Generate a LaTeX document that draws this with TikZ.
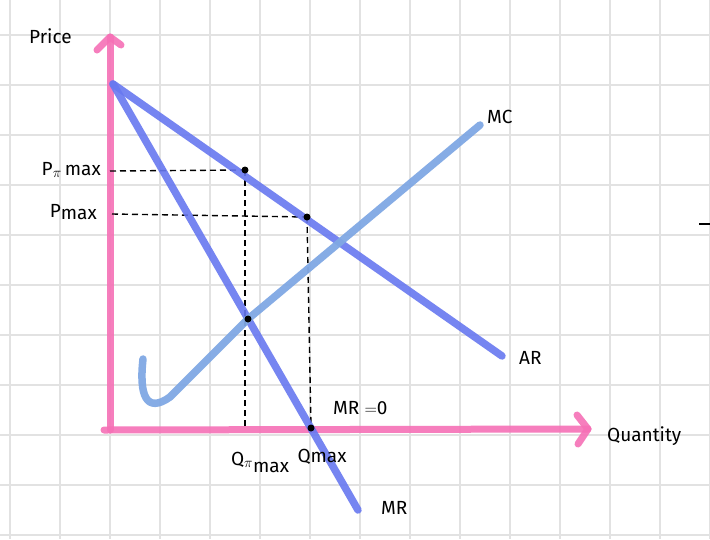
\documentclass[tikz,border=0pt]{standalone}
\usepackage{fontspec}
\setmainfont{Fira Sans}
\definecolor{axpink}{RGB}{246,112,182}
\definecolor{curveblue}{RGB}{104,120,240}
\definecolor{mcblue}{RGB}{128,168,228}
\definecolor{gridgray}{RGB}{226,226,226}
\begin{document}
\begin{tikzpicture}[x=1pt,y=-1pt,
  gridline/.style={draw=gridgray,line width=2pt},
  axisline/.style={draw=axpink,line width=7pt,line cap=round,line join=round,opacity=0.9},
  curveline/.style={draw=curveblue,line width=7.5pt,line cap=round,opacity=0.9},
  mcline/.style={draw=mcblue,line width=7.5pt,line cap=round,line join=round,opacity=0.95},
  guide/.style={draw=black,line width=1.4pt,dash pattern=on 6pt off 4pt},
  pt/.style={circle,fill=black,inner sep=0pt,minimum size=7pt},
  lbl/.style={font=\fontsize{19}{22}\selectfont,inner sep=1pt},
]
\useasboundingbox (0,0) rectangle (710,539);
\fill[white] (0,0) rectangle (710,539);
% grid
\foreach \x in {10,60,...,710} \draw[gridline] (\x,0) -- (\x,539);
\foreach \y in {35,85,...,535} \draw[gridline] (0,\y) -- (710,\y);

% coordinates
\coordinate (O) at (110,430);
\coordinate (Ytop) at (110,37);
\coordinate (Xend) at (588,429);
\coordinate (Top) at (113,84);
\coordinate (ARend) at (502,356);
\coordinate (MRend) at (358,510);
\coordinate (MCstart) at (143,359);
\coordinate (MCend) at (480,125);
\coordinate (Ppi) at (110,171);
\coordinate (Pm) at (112,214);
\coordinate (Qpi) at (245,428);
\coordinate (Qm) at (311,428);
\coordinate (Apos) at (245,170);
\coordinate (Bpos) at (307,217);
\coordinate (Cpos) at (248,319);

% axes
\draw[axisline] (O) -- (Ytop);
\draw[axisline] (97,50) -- (Ytop) -- (121,45);
\draw[axisline] (104,430) -- (Xend);
\draw[axisline] (577,415) -- (Xend) -- (578,444);

% guides
\draw[guide] (Ppi) -- (Apos);
\draw[guide] (Pm) -- (Bpos);
\draw[guide] (Apos) -- (Qpi);
\draw[guide] (Bpos) -- (Qm);

% curves
\draw[curveline] (Top) -- (ARend);
\draw[curveline] (Top) -- (MRend);
\draw[mcline] (MCstart) .. controls (139,395) and (146,414) .. (170,397) -- (Cpos) -- (MCend);

% points
\node[pt] (A) at (Apos) {};
\node[pt] (B) at (Bpos) {};
\node[pt] (C) at (Cpos) {};
\node[pt] (D) at (Qm) {};

% labels
\node[lbl,anchor=west] (price) at (28,36) {Price};
\node[lbl,anchor=east] (lppi) at (102,170) {P$_{\pi}$\,max};
\node[lbl,anchor=east] (lpm) at (98,212) {P\raisebox{-2pt}{max}};
\node[lbl] (lqpi) at (260,462) {Q$_{\pi}$\raisebox{-7pt}{max}};
\node[lbl] (lqm) at (322,457) {Qmax};
\node[lbl,anchor=west] (lmr0) at (332,408) {MR $=$0};
\node[lbl,anchor=west] (lmr) at (380,508) {MR};
\node[lbl,anchor=west] (lar) at (518,358) {AR};
\node[lbl,anchor=west] (lmc) at (486,117) {MC};
\node[lbl,anchor=west] (lq) at (606,436) {Quantity};
\draw[black,line width=1.4pt] (699,224) -- (710,224);
\end{tikzpicture}
\end{document}
